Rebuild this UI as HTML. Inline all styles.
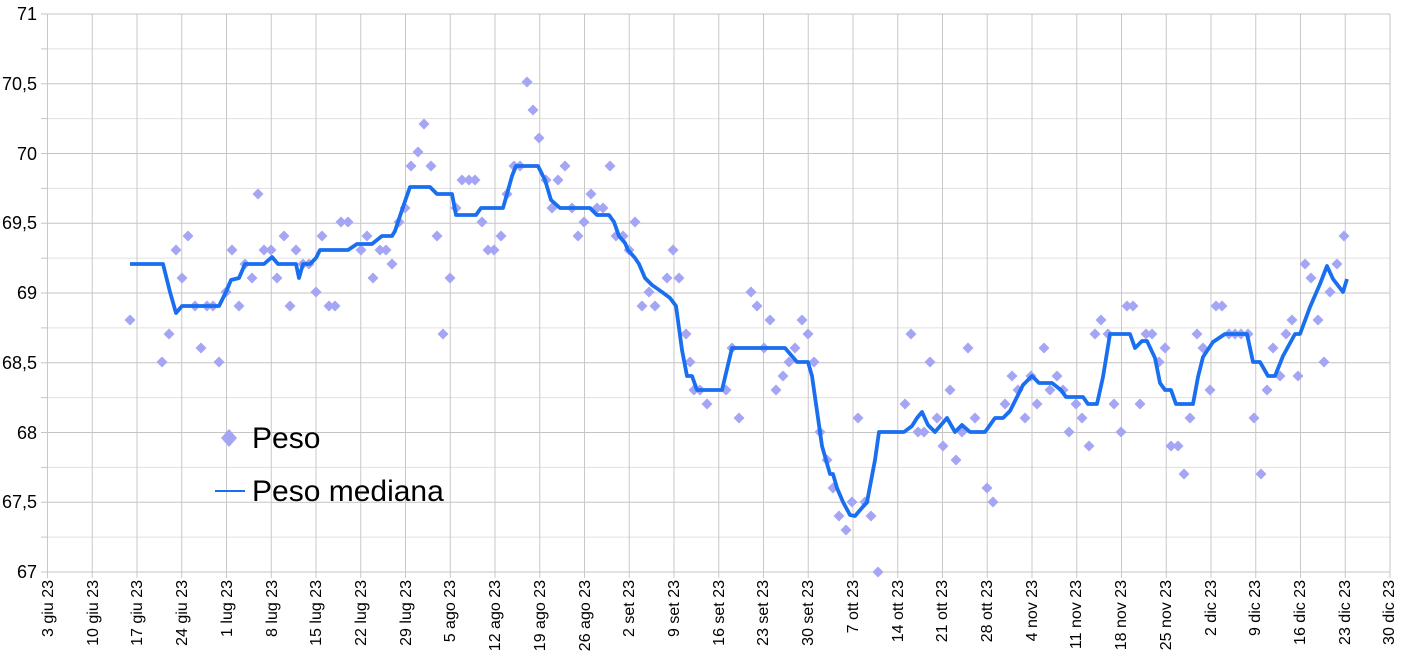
<!DOCTYPE html>
<html><head><meta charset="utf-8"><style>
html,body{margin:0;padding:0;background:#fff;}
svg{display:block;font-family:"Liberation Sans",sans-serif;}
</style></head><body>
<svg id="s" width="1405" height="659" viewBox="0 0 1405 659">
<g id="grid"></g>
<g font-size="18" text-anchor="end" fill="#000">
<text x="37" y="20">71</text>
<text x="37" y="90">70,5</text>
<text x="37" y="160">70</text>
<text x="37" y="229">69,5</text>
<text x="37" y="299">69</text>
<text x="37" y="369">68,5</text>
<text x="37" y="439">68</text>
<text x="37" y="508">67,5</text>
<text x="37" y="578">67</text>
</g>
<g id="xl" font-size="16" text-anchor="end" fill="#000">
<text transform="translate(53,580) rotate(-90)">3 giu 23</text>
<text transform="translate(98,580) rotate(-90)">10 giu 23</text>
<text transform="translate(142,580) rotate(-90)">17 giu 23</text>
<text transform="translate(187,580) rotate(-90)">24 giu 23</text>
<text transform="translate(232,580) rotate(-90)">1 lug 23</text>
<text transform="translate(277,580) rotate(-90)">8 lug 23</text>
<text transform="translate(321,580) rotate(-90)">15 lug 23</text>
<text transform="translate(366,580) rotate(-90)">22 lug 23</text>
<text transform="translate(411,580) rotate(-90)">29 lug 23</text>
<text transform="translate(455,580) rotate(-90)">5 ago 23</text>
<text transform="translate(500,580) rotate(-90)">12 ago 23</text>
<text transform="translate(545,580) rotate(-90)">19 ago 23</text>
<text transform="translate(590,580) rotate(-90)">26 ago 23</text>
<text transform="translate(634,580) rotate(-90)">2 set 23</text>
<text transform="translate(679,580) rotate(-90)">9 set 23</text>
<text transform="translate(724,580) rotate(-90)">16 set 23</text>
<text transform="translate(768,580) rotate(-90)">23 set 23</text>
<text transform="translate(813,580) rotate(-90)">30 set 23</text>
<text transform="translate(858,580) rotate(-90)">7 ott 23</text>
<text transform="translate(903,580) rotate(-90)">14 ott 23</text>
<text transform="translate(947,580) rotate(-90)">21 ott 23</text>
<text transform="translate(992,580) rotate(-90)">28 ott 23</text>
<text transform="translate(1037,580) rotate(-90)">4 nov 23</text>
<text transform="translate(1081,580) rotate(-90)">11 nov 23</text>
<text transform="translate(1126,580) rotate(-90)">18 nov 23</text>
<text transform="translate(1171,580) rotate(-90)">25 nov 23</text>
<text transform="translate(1216,580) rotate(-90)">2 dic 23</text>
<text transform="translate(1260,580) rotate(-90)">9 dic 23</text>
<text transform="translate(1305,580) rotate(-90)">16 dic 23</text>
<text transform="translate(1350,580) rotate(-90)">23 dic 23</text>
<text transform="translate(1394,580) rotate(-90)">30 dic 23</text>
</g>
<g id="pts" fill="#a5a5f5"></g>
<polyline id="ln" fill="none" stroke="#1a6ff0" stroke-width="3.8" stroke-linejoin="round" points=""/>
<g>
<path d="M229 429 L237 438 L229 447 L221 438 Z" fill="#a5a5f5"/>
<text x="252" y="448" font-size="30" fill="#000">Peso</text>
<line x1="215" y1="491" x2="245" y2="491" stroke="#1a6ff0" stroke-width="2"/>
<text x="252" y="501" font-size="30" fill="#000">Peso mediana</text>
</g>
</svg>
<script>
var ns="http://www.w3.org/2000/svg",g=document.getElementById('grid');
function L(x1,y1,x2,y2,c){var l=document.createElementNS(ns,'line');l.setAttribute('x1',x1);l.setAttribute('y1',y1);l.setAttribute('x2',x2);l.setAttribute('y2',y2);l.setAttribute('stroke',c);l.setAttribute('stroke-width',1);g.appendChild(l);}
for(var i=0;i<=16;i++){var y=14+i*34.875;L(47.5,y,1390,y,i%2?'#e0e0e0':'#c4c4c4');}
for(var i=0;i<=30;i++){var x=47.5+i*44.75;L(x,14,x,578,'#c8c8c8');}
L(1390,14,1390,572,'#c4c4c4');
for(var i=0;i<=16;i++){var y=14+i*34.875;L(41,y,47.5,y,'#c4c4c4');}
var P=[130,320,162,362,169,334,176,250,182,278,188,236,195,306,201,348,207,306,213,306,219,362,226,292,232,250,239,306,245,264,252,278,258,194,264,250,271,250,277,278,284,236,290,306,296,250,303,264,309,264,316,292,322,236,329,306,335,306,341,222,348,222,361,250,367,236,373,278,380,250,386,250,392,264,399,222,405,208,411,166,418,152,424,124,431,166,437,236,443,334,450,278,456,208,462,180,469,180,475,180,482,222,488,250,494,250,501,236,507,194,514,166,520,166,527,82,533,110,539,138,546,180,552,208,558,180,565,166,572,208,578,236,584,222,591,194,597,208,603,208,610,166,616,236,623,236,629,250,635,222,642,306,649,292,655,306,667,278,673,250,679,278,686,334,690,362,694,390,700,390,707,404,726,390,732,348,739,418,751,292,757,306,764,348,770,320,776,390,783,376,789,362,795,348,802,320,808,334,814,362,820,432,827,460,833,488,839,516,846,530,852,502,858,418,865,502,871,516,878,572,905,404,911,334,918,432,924,432,930,362,937,418,943,446,950,390,956,460,962,432,968,348,975,418,987,488,993,502,1005,404,1012,376,1018,390,1025,418,1031,376,1037,404,1044,348,1050,390,1057,376,1063,390,1069,432,1076,404,1082,418,1089,446,1095,334,1101,320,1108,334,1114,404,1121,432,1127,306,1133,306,1140,404,1146,334,1152,334,1159,362,1165,348,1171,446,1178,446,1184,474,1190,418,1197,334,1203,348,1210,390,1216,306,1222,306,1229,334,1235,334,1241,334,1248,334,1254,418,1261,474,1267,390,1273,348,1280,376,1286,334,1292,320,1298,376,1305,264,1311,278,1318,320,1324,362,1330,292,1337,264,1344,236];
var pg=document.getElementById('pts');
for(var i=0;i<P.length;i+=2){var x=P[i],y=P[i+1],p=document.createElementNS(ns,'path');p.setAttribute('d','M'+x+' '+(y-5.5)+'L'+(x+5.5)+' '+y+'L'+x+' '+(y+5.5)+'L'+(x-5.5)+' '+y+'Z');pg.appendChild(p);}
document.getElementById('ln').setAttribute('points',"130,264 163,264 170,292 176,313 182,306 200,306 219,306 226,292 231,280 239,278 245,264 264,264 272,257 278,264 290,264 296,264 299,278 303,264 310,264 316,258 320,250 335,250 348,250 357,244 372,244 382,236 392,236 395,231 403,207 410,187 430,187 437,194 452,194 456,215 476,215 481,208 503,208 507,194 512,176 516,166 538,166 545,180 551,200 560,208 590,208 597,215 609,215 614,222 619,236 625,243 628,250 635,258 639,264 645,278 652,285 662,292 670,298 676,306 682,350 687,376 692,376 697,390 722,390 732,348 748,348 785,348 797,362 808,362 812,376 818,418 822,446 826,460 830,474 833,474 837,488 843,502 850,515 855,516 861,509 867,502 875,460 879,432 904,432 912,426 917,418 922,412 928,425 935,432 947,418 955,432 962,425 970,432 985,432 995,418 1003,418 1010,411 1017,397 1023,385 1032,376 1039,383 1052,383 1061,390 1066,397 1083,397 1088,404 1097,404 1103,377 1110,334 1130,334 1135,348 1142,341 1147,341 1155,358 1160,383 1165,390 1171,390 1176,404 1193,404 1198,377 1203,357 1213,342 1225,334 1247,334 1253,362 1260,362 1268,376 1275,376 1283,356 1295,334 1300,334 1310,307 1320,284 1327,266 1333,279 1343,292 1347,279");
</script>
</body></html>
